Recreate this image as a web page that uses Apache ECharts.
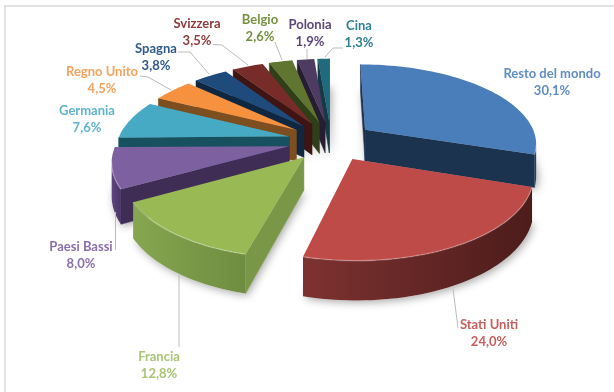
<!DOCTYPE html>
<html>
<head>
<meta charset="utf-8">
<style>html,body{margin:0;padding:0;background:#fff}#chart{width:614px;height:392px}</style>
<script src="https://cdn.jsdelivr.net/npm/echarts@6/dist/echarts.min.js"></script>
</head>
<body>
<div id="chart"></div>
<script>
// Quote per paese, in senso orario dalle ore 12
const categories = ['Resto del mondo', 'Stati Uniti', 'Francia', 'Paesi Bassi', 'Germania', 'Regno Unito', 'Spagna', 'Svizzera', 'Belgio', 'Polonia', 'Cina'];
const shares = [30.1, 24.0, 12.8, 8.0, 7.6, 4.5, 3.8, 3.5, 2.6, 1.9, 1.3];

// Colori: faccia superiore, parete radiale, parete esterna (sinistra, destra), testo
const topColors = ['#4a7ebb', '#be4b48', '#98b954', '#7d60a0', '#46aac5', '#f6923f', '#1f4a7c', '#772c2a', '#5f7530', '#4d3b62', '#1f6a7e'];
const wallColors = ['#1c3350', '#5a2322', '#7a9748', '#3f2d56', '#17505e', '#7d4e1f', '#0f2740', '#3f1514', '#2f3f18', '#271d33', '#143a46'];
const rimLeft = ['#2c4f78', '#7d3230', '#86a650', '#5e4580', '#2a7a8e', '#b06a28', '#16375c', '#571f1e', '#46591f', '#36294a', '#184f5e'];
const rimRight = ['#1c3350', '#4c1c1b', '#6f8d40', '#4a3566', '#20687a', '#8a5520', '#10294a', '#3f1514', '#2f3f18', '#271d33', '#143a46'];
const labelColors = ['#5f8cc4', '#c65f5c', '#a9c474', '#8a70ac', '#5fb4cc', '#f5a35f', '#2f5a8c', '#8d3c3a', '#75903f', '#5a4679', '#2d8096'];

// Centro delle etichette e linee guida
const labelCenters = [[552, 82], [489, 333], [159, 365], [81, 255], [87, 119], [102, 80], [156, 57], [197, 32], [260, 28], [310, 33], [359, 34]];
const leaders = [
  null,
  [[458, 328], [453, 289]],
  [[179, 347], [179, 275]],
  [[115.5, 250], [115.5, 212]],
  null,
  [[140, 76], [148, 77], [171, 90]],
  [[178, 52], [190, 52], [209, 74]],
  [[213, 44.5], [222, 45], [248, 65]],
  [[275, 42], [282, 60]],
  [[307, 49], [307, 59]],
  [[343, 48], [333, 48], [325, 57]]
];

// Proiezione prospettica del disco
const CX = 331, CY = 141, RX = 172, RY = 79, PERSP = 0.16, EXPLODE = 0.25, DEPTH = 32;
const project = (x, y, down) => {
  const d = 1 - PERSP * y;
  return [CX + x * RX / d, CY + (y * RY + (down ? DEPTH : 0)) / d];
};

const total = shares.reduce((a, b) => a + b, 0);
let running = 0;
const slices = shares.map((v, i) => {
  const start = running / total * 2 * Math.PI;
  running += v;
  const end = running / total * 2 * Math.PI;
  const mid = (start + end) / 2;
  return { i, start, end, mid };
});
const drawOrder = slices.slice().sort((a, b) => Math.cos(b.mid) - Math.cos(a.mid)).map(s => s.i);

function sliceOutline(s) {
  const ox = EXPLODE * Math.sin(s.mid), oy = -EXPLODE * Math.cos(s.mid);
  const steps = Math.max(4, Math.ceil((s.end - s.start) / 0.03));
  const pts = [[ox, oy]];
  for (let k = 0; k <= steps; k++) {
    const a = s.start + (s.end - s.start) * k / steps;
    pts.push([ox + Math.sin(a), oy - Math.cos(a)]);
  }
  return pts;
}

function renderSlice(params, api) {
  const i = api.value(0);
  const s = slices[i];
  const raw = sliceOutline(s);
  const top = raw.map(p => project(p[0], p[1], false));
  const low = raw.map(p => project(p[0], p[1], true));
  const children = [];

  // Ombra morbida sotto il solido
  children.push({
    type: 'polygon',
    shape: { points: low },
    style: { fill: '#fff', shadowBlur: 9, shadowColor: 'rgba(60,60,60,0.45)', shadowOffsetX: 2, shadowOffsetY: 2 }
  });

  // Pareti rivolte verso l'osservatore: lati del contorno percorsi verso sinistra
  const n = top.length;
  const arcRun = [];
  for (let k = 0; k < n; k++) {
    const j = (k + 1) % n;
    if (top[j][0] - top[k][0] >= 0) continue;
    if (k === 0 || j === 0) {
      children.push({
        type: 'polygon',
        shape: { points: [top[k], top[j], low[j], low[k]] },
        style: { fill: wallColors[i], stroke: wallColors[i], lineWidth: 0.5 }
      });
    } else {
      arcRun.push(k);
    }
  }
  if (arcRun.length) {
    const first = arcRun[0], last = arcRun[arcRun.length - 1] + 1;
    const upper = top.slice(first, last + 1);
    const lower = low.slice(first, last + 1).reverse();
    children.push({
      type: 'polygon',
      shape: { points: upper.concat(lower) },
      style: {
        fill: { type: 'linear', x: 0, y: 0, x2: 1, y2: 0, colorStops: [
          { offset: 0, color: rimLeft[i] }, { offset: 1, color: rimRight[i] }
        ] }
      }
    });
  }

  // Faccia superiore con riflesso sul bordo
  children.push({ type: 'polygon', shape: { points: top }, style: { fill: topColors[i] } });
  if (arcRun.length) {
    children.push({
      type: 'polyline',
      shape: { points: top.slice(arcRun[0], arcRun[arcRun.length - 1] + 2) },
      style: { fill: null, stroke: 'rgba(255,255,255,0.22)', lineWidth: 1.6 }
    });
  }
  return { type: 'group', children };
}

function renderLabel(params, api) {
  const i = api.value(0);
  const children = [];
  if (leaders[i]) {
    children.push({ type: 'polyline', shape: { points: leaders[i] }, style: { fill: null, stroke: '#bcbcbc', lineWidth: 1 } });
  }
  children.push({
    type: 'text',
    style: {
      x: labelCenters[i][0], y: labelCenters[i][1],
      text: categories[i] + '\n' + shares[i].toFixed(1).replace('.', ',') + '%',
      font: 'bold 13px Lato',
      lineHeight: 17,
      align: 'center', verticalAlign: 'middle',
      fill: labelColors[i]
    }
  });
  return { type: 'group', children };
}

const chart = echarts.init(document.getElementById('chart'));
chart.setOption({
  animation: false,
  backgroundColor: '#ffffff',
  graphic: [
    { type: 'line', shape: { x1: 4, y1: 6, x2: 614, y2: 6 }, style: { stroke: '#e2e2e2', lineWidth: 2 } },
    { type: 'line', shape: { x1: 5, y1: 5, x2: 5, y2: 392 }, style: { stroke: '#e2e2e2', lineWidth: 2 } }
  ],
  series: [
    { type: 'custom', coordinateSystem: 'none', silent: true, renderItem: renderSlice, data: drawOrder.map(i => [i]), z: 2 },
    { type: 'custom', coordinateSystem: 'none', silent: true, renderItem: renderLabel, data: categories.map((c, i) => [i]), z: 3 }
  ]
});
</script>
</body>
</html>
